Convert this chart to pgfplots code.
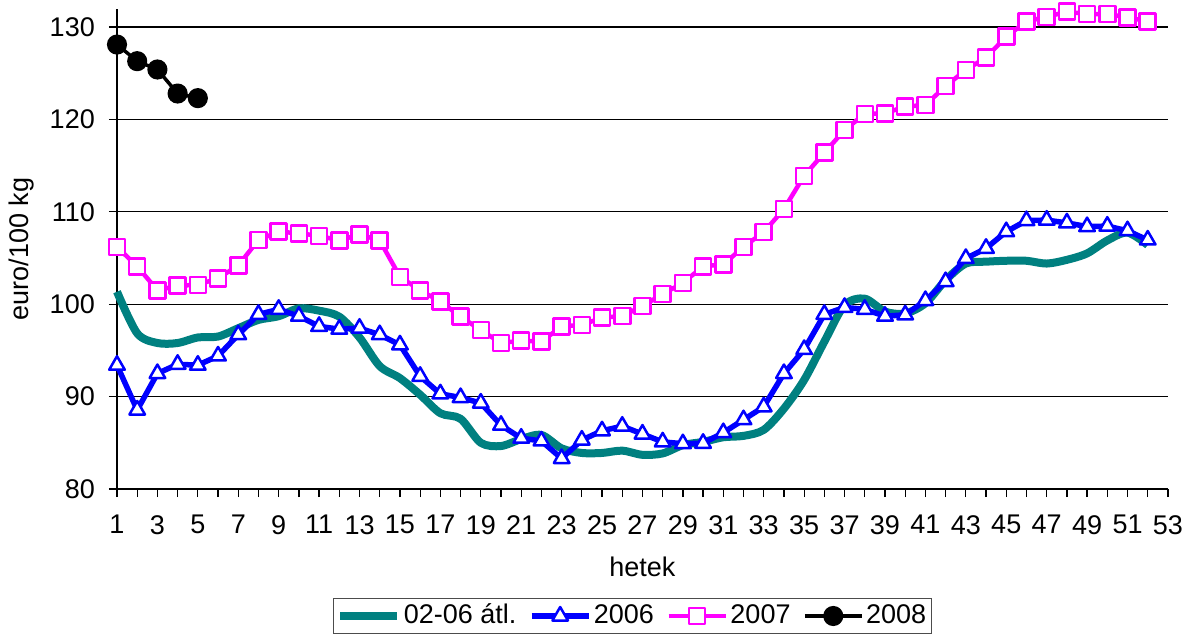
\documentclass[border=0pt]{standalone}
\usepackage{fontspec}
\setmainfont{Liberation Sans}
\usepackage{pgfplots}
\pgfplotsset{compat=1.18}
\definecolor{avgteal}{RGB}{0,128,128}
\definecolor{myblue}{RGB}{0,0,255}
\definecolor{mymag}{RGB}{255,0,255}

\pgfplotstableread{
w v
1 101.35
2 96.85
3 95.8
4 95.8
5 96.4
6 96.5
7 97.4
8 98.3
9 98.7
10 99.55
11 99.3
12 98.65
13 96.4
14 93.3
15 92.0
16 90.2
17 88.2
18 87.6
19 85.0
20 84.65
21 85.4
22 85.85
23 84.4
24 83.9
25 83.9
26 84.15
27 83.7
28 83.85
29 84.75
30 85.1
31 85.6
32 85.75
33 86.4
34 88.7
35 91.8
36 95.95
37 99.9
38 100.6
39 99.2
40 99.0
41 100.1
42 102.6
43 104.4
44 104.6
45 104.7
46 104.7
47 104.4
48 104.8
49 105.5
50 106.9
51 107.75
52 106.4
}\avgdata

\pgfplotstableread{
w v
1 93.4
2 88.55
3 92.5
4 93.5
5 93.4
6 94.4
7 96.7
8 98.9
9 99.45
10 98.7
11 97.6
12 97.3
13 97.4
14 96.7
15 95.6
16 92.2
17 90.3
18 89.9
19 89.3
20 86.9
21 85.5
22 85.2
23 83.3
24 85.3
25 86.3
26 86.8
27 85.95
28 85.1
29 84.9
30 84.95
31 86.1
32 87.5
33 88.9
34 92.5
35 95.1
36 98.9
37 99.65
38 99.45
39 98.7
40 98.85
41 100.4
42 102.45
43 104.95
44 106.05
45 107.85
46 109.05
47 109.1
48 108.8
49 108.4
50 108.45
51 107.95
52 106.95
}\sixdata

\pgfplotstableread{
w v
1 106.2
2 104.1
3 101.5
4 102.0
5 102.1
6 102.8
7 104.2
8 106.95
9 107.85
10 107.67
11 107.4
12 106.9
13 107.55
14 106.9
15 102.97
16 101.5
17 100.3
18 98.65
19 97.2
20 95.8
21 96.05
22 95.95
23 97.6
24 97.75
25 98.55
26 98.72
27 99.8
28 101.1
29 102.3
30 104.1
31 104.3
32 106.2
33 107.8
34 110.3
35 113.9
36 116.4
37 118.85
38 120.6
39 120.65
40 121.4
41 121.55
42 123.6
43 125.35
44 126.7
45 128.95
46 130.6
47 131.1
48 131.65
49 131.4
50 131.4
51 131.05
52 130.6
}\sevendata

\pgfplotstableread{
w v
1 128.1
2 126.3
3 125.4
4 122.8
5 122.3
}\eightdata

\begin{document}
\fontsize{27}{32}\selectfont
\begin{tikzpicture}
\begin{axis}[
  name=ax,
  at={(0pt,0pt)}, anchor=south west,
  scale only axis,
  width=1051pt, height=480.5pt,
  xmin=1, xmax=53, ymin=80, ymax=132,
  xtick={1,3,...,53}, minor xtick={2,4,...,52},
  ytick={80,90,...,130},
  axis x line*=bottom, axis y line*=left,
  axis line style={line width=1.3pt, -},
  ymajorgrids,
  grid style={black, line width=1.2pt},
  tick align=outside,
  major tick length=8pt, minor tick length=8pt,
  tick style={black, line width=1.3pt},
  /pgf/number format/assume math mode=true,
  ticklabel style={font=\fontsize{27}{32}\selectfont},
  xticklabel style={yshift=-9pt},
  yticklabel style={xshift=-5pt},
  clip=false,
  xlabel={hetek},
  ylabel={euro/100 kg},
  every axis x label/.style={at={(axis description cs:0.5,-0.1623)}, anchor=center, font=\fontsize{27}{32}\selectfont},
  every axis y label/.style={at={(axis description cs:-0.0906,0.5)}, anchor=center, rotate=90, font=\fontsize{27}{32}\selectfont},
  legend columns=4,
  legend style={at={(axis description cs:0.4905,-0.2268)}, anchor=north,
    draw=black!70, line width=1.1pt, font=\fontsize{27}{32}\selectfont,
    inner xsep=3pt, inner ysep=3pt,
    nodes={inner sep=2.5pt},
    /tikz/every even column/.append style={column sep=10pt}},
  legend image code/.code={\draw[mark repeat=2,mark phase=2,#1] plot coordinates {(0pt,0pt) (28.5pt,0pt) (57pt,0pt)};},
]
\addplot[avgteal, line width=8pt, smooth, tension=0.5, line join=round] table[x=w,y=v] {\avgdata};
\addlegendentry{02-06 átl.}
\addplot[myblue, line width=5.5pt, line join=round, mark=triangle*, mark size=9pt,
  mark options={solid, fill=white, draw=myblue, line width=2.5pt}] table[x=w,y=v] {\sixdata};
\addlegendentry{2006}
\addplot[mymag, line width=4.5pt, line join=round, mark=square*, mark size=8pt,
  mark options={solid, fill=white, draw=mymag, line width=2.5pt}] table[x=w,y=v] {\sevendata};
\addlegendentry{2007}
\addplot[black, line width=3.5pt, line join=round, mark=*, mark size=8.3pt,
  mark options={solid, fill=black}] table[x=w,y=v] {\eightdata};
\addlegendentry{2008}
\end{axis}
\pgfresetboundingbox
\path ([shift={(-117pt,-144pt)}]ax.south west) rectangle ([shift={(1070pt,489pt)}]ax.south west);
\end{tikzpicture}
\end{document}
